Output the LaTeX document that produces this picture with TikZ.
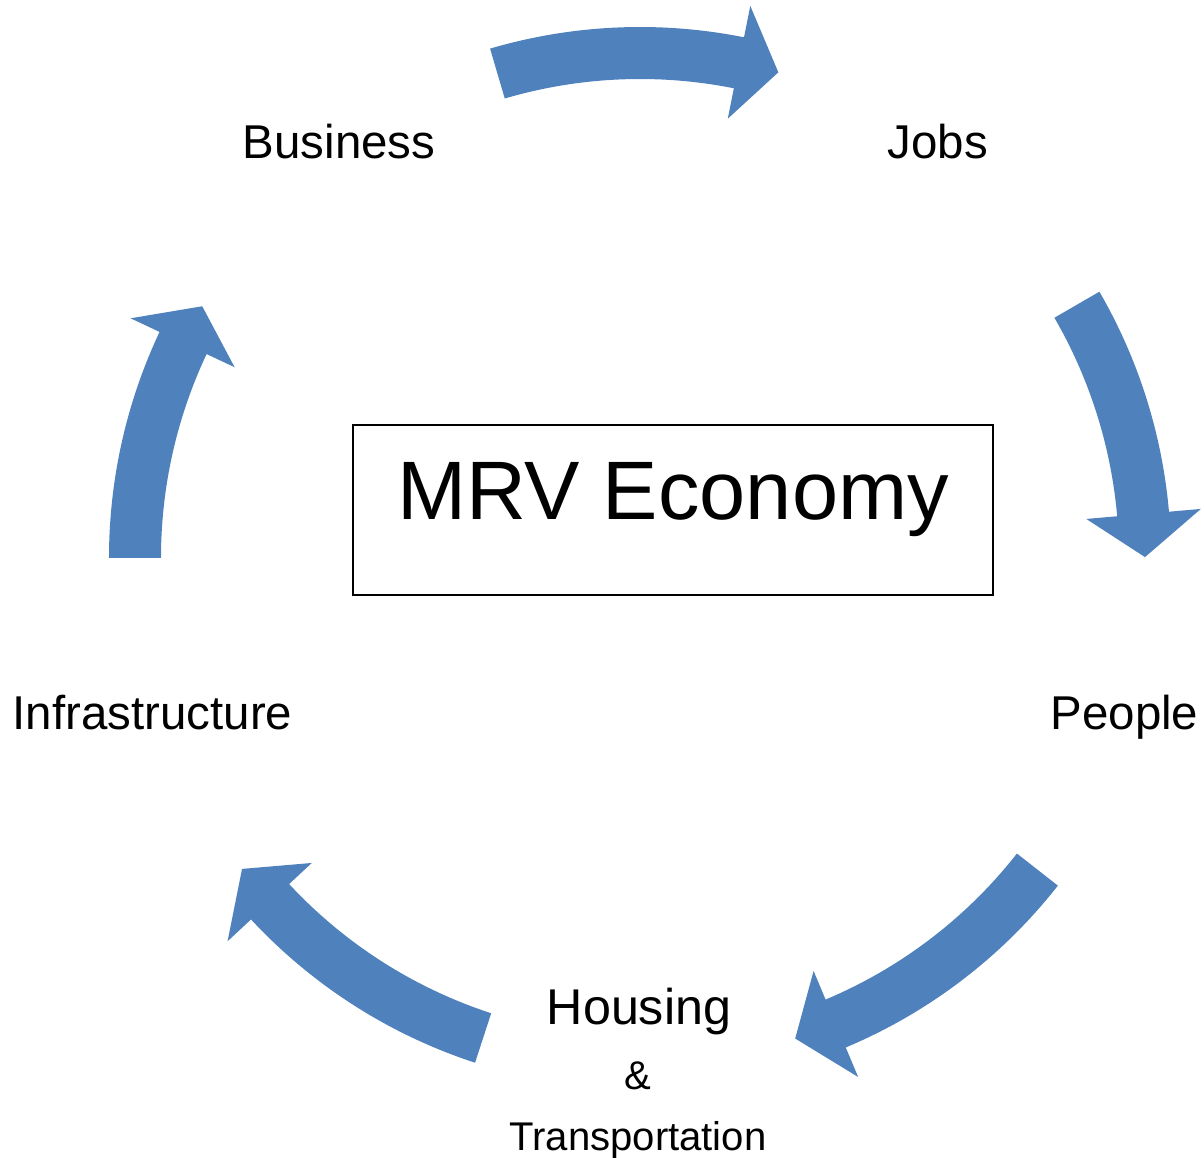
\documentclass[tikz,border=0pt]{standalone}
\usepackage{fontspec}
\setmainfont{Liberation Sans}
\usepackage{xcolor}
\usetikzlibrary{positioning}

\definecolor{arrowblue}{RGB}{79,129,189}

% curved block arrow round the hub: #1 tail angle, #2 head base angle, #3 tip angle
\newcommand{\cyclearrow}[3]{%
  \fill[arrowblue] (#1:5.31) arc[start angle=#1, end angle=#2, radius=5.31]
    -- (#2:5.63) -- (#3:5.05) -- (#2:4.48) -- (#2:4.79)
    arc[start angle=#2, end angle=#1, radius=4.79] -- cycle;}

\begin{document}
\begin{tikzpicture}[
    stage/.style={font=\fontsize{13.5}{16}\selectfont, anchor=base, inner sep=0pt},
    minor/.style={font=\fontsize{11.4}{14}\selectfont, anchor=base, inner sep=0pt},
    hub/.style={draw=black, line width=0.8pt, minimum width=6.4cm, inner xsep=0pt, inner ysep=0pt, text height=0.95cm, text depth=0.75cm, font=\fontsize{23.6}{28}\selectfont}
]
\useasboundingbox (-6.40,-6.00) rectangle (5.64,5.58);

% the five arrows of the cycle
\cyclearrow{106.4}{78.7}{74.1}
\cyclearrow{30.1}{5.0}{0.1}
\cyclearrow{-38.1}{-67.2}{-72.1}
\cyclearrow{-108.1}{-137.1}{-142.0}
\cyclearrow{180}{154.8}{150.1}

\node[hub] (mrv) at (0.33,0.48) {MRV Economy};

\node[stage] (business) at (-3.01,3.99) {Business};
\node[stage] (jobs) at (2.98,3.99) {Jobs};
\node[stage] (people) at (4.845,-1.72) {People};
\node[stage] (infra) at (-4.875,-1.72) {Infrastructure};
\node[stage, font=\fontsize{14.3}{17}\selectfont] (housing) at (-0.01,-4.66) {Housing};
\node[minor] (amp) at (-0.02,-5.31) {\&};
\node[minor] (transport) at (-0.02,-5.92) {Transportation};

\end{tikzpicture}
\end{document}
